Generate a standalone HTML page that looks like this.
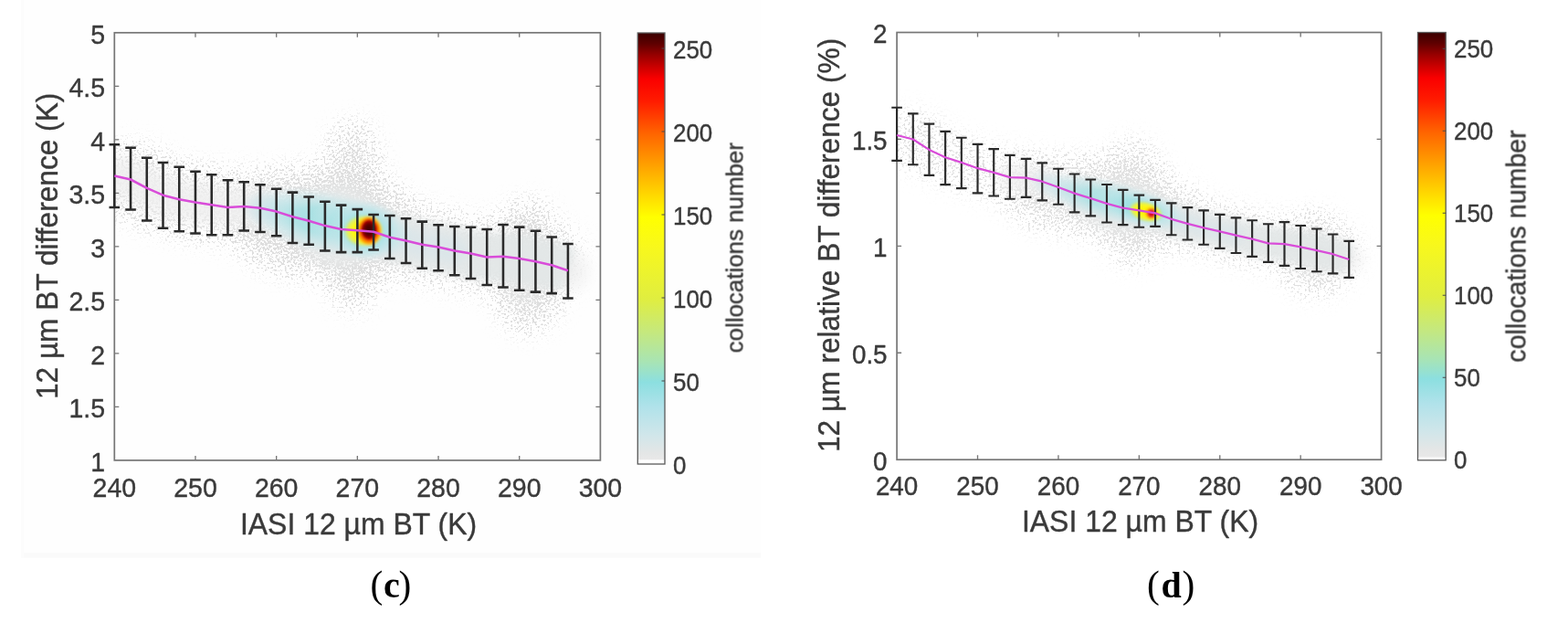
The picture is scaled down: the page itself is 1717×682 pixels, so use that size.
<!DOCTYPE html>
<html lang="en"><head><meta charset="utf-8">
<title>IASI 12 µm BT difference</title>
<style>
html,body{margin:0;padding:0;background:#fff;}
body{width:1717px;height:682px;overflow:hidden;}
svg{display:block;}
.soft{filter:blur(0.62px);}
.t{font-family:"Liberation Sans", sans-serif;fill:#3a3a3a;stroke:#3a3a3a;stroke-width:0.4px;stroke-linejoin:round;}
.cap{font-family:"Liberation Serif", serif;fill:#000;}
</style></head><body>
<svg width="1717" height="682" viewBox="0 0 1717 682">
<defs>
<linearGradient id="cbg" x1="0" y1="0" x2="0" y2="1">
<stop offset="0" stop-color="#3a0000"/>
<stop offset="0.025" stop-color="#5e0000"/>
<stop offset="0.051" stop-color="#960000"/>
<stop offset="0.08" stop-color="#cc0000"/>
<stop offset="0.107" stop-color="#fa0000"/>
<stop offset="0.159" stop-color="#ff1c00"/>
<stop offset="0.233" stop-color="#ff6400"/>
<stop offset="0.316" stop-color="#ffa800"/>
<stop offset="0.381" stop-color="#ffdc00"/>
<stop offset="0.428" stop-color="#ffff00"/>
<stop offset="0.496" stop-color="#f8f81c"/>
<stop offset="0.617" stop-color="#e0ee40"/>
<stop offset="0.697" stop-color="#c4e880"/>
<stop offset="0.763" stop-color="#a8e4b4"/>
<stop offset="0.81" stop-color="#8cdfe0"/>
<stop offset="0.867" stop-color="#b0e2ea"/>
<stop offset="0.932" stop-color="#d0e6ea"/>
<stop offset="0.975" stop-color="#e4e6e6"/>
<stop offset="0.9885" stop-color="#e8e8e8"/>
<stop offset="0.9915" stop-color="#ffffff"/>
<stop offset="1" stop-color="#ffffff"/>
</linearGradient>
<linearGradient id="cbgR" x1="0" y1="0" x2="0" y2="1">
<stop offset="0" stop-color="#3a0000"/>
<stop offset="0.025" stop-color="#5e0000"/>
<stop offset="0.051" stop-color="#960000"/>
<stop offset="0.08" stop-color="#cc0000"/>
<stop offset="0.107" stop-color="#fa0000"/>
<stop offset="0.159" stop-color="#ff1c00"/>
<stop offset="0.233" stop-color="#ff6400"/>
<stop offset="0.316" stop-color="#ffa800"/>
<stop offset="0.381" stop-color="#ffdc00"/>
<stop offset="0.428" stop-color="#ffff00"/>
<stop offset="0.496" stop-color="#f8f81c"/>
<stop offset="0.617" stop-color="#e0ee40"/>
<stop offset="0.697" stop-color="#c4e880"/>
<stop offset="0.763" stop-color="#a8e4b4"/>
<stop offset="0.81" stop-color="#8cdfe0"/>
<stop offset="0.867" stop-color="#b0e2ea"/>
<stop offset="0.932" stop-color="#d0e6ea"/>
<stop offset="0.975" stop-color="#e4e6e6"/>
<stop offset="0.9915" stop-color="#e8e8e8"/>
<stop offset="0.9945" stop-color="#ffffff"/>
<stop offset="1" stop-color="#ffffff"/>
</linearGradient>
<radialGradient id="gCore"><stop offset="0" stop-color="#380000"/><stop offset="0.5" stop-color="#600000"/><stop offset="0.78" stop-color="#b80400"/><stop offset="1" stop-color="#ff2800" stop-opacity="0"/></radialGradient>
<radialGradient id="gOr"><stop offset="0" stop-color="#ff2000"/><stop offset="0.5" stop-color="#ff4800"/><stop offset="0.78" stop-color="#ffa000"/><stop offset="1" stop-color="#ffe800" stop-opacity="0"/></radialGradient>
<radialGradient id="gYe"><stop offset="0" stop-color="#fff400"/><stop offset="0.55" stop-color="#fbf81c"/><stop offset="0.78" stop-color="#e6f050" stop-opacity="0.9"/><stop offset="1" stop-color="#b0e6b0" stop-opacity="0"/></radialGradient>
<radialGradient id="gCoreR"><stop offset="0" stop-color="#cc0428"/><stop offset="0.6" stop-color="#e4102c"/><stop offset="1" stop-color="#ff6000" stop-opacity="0"/></radialGradient>
<radialGradient id="gOrR"><stop offset="0" stop-color="#ff7000"/><stop offset="0.5" stop-color="#ffb000"/><stop offset="1" stop-color="#ffee00" stop-opacity="0"/></radialGradient>
<radialGradient id="gCy"><stop offset="0" stop-color="#90dfe0" stop-opacity="1"/><stop offset="0.4" stop-color="#a2e1e4" stop-opacity="0.95"/><stop offset="0.72" stop-color="#c2e6ea" stop-opacity="0.6"/><stop offset="1" stop-color="#dde8ea" stop-opacity="0"/></radialGradient>
<filter id="b1" x="-30%" y="-30%" width="160%" height="160%"><feGaussianBlur stdDeviation="1"/></filter>
<filter id="b4" x="-30%" y="-30%" width="160%" height="160%"><feGaussianBlur stdDeviation="4.5"/></filter>
<filter id="b8" x="-30%" y="-30%" width="160%" height="160%"><feGaussianBlur stdDeviation="8"/></filter>
<filter id="spk" x="0" y="0" width="100%" height="100%" filterUnits="objectBoundingBox" color-interpolation-filters="sRGB"><feGaussianBlur in="SourceGraphic" stdDeviation="14" result="d"/><feTurbulence type="fractalNoise" baseFrequency="0.42" numOctaves="2" seed="11" result="n"/><feColorMatrix in="n" type="matrix" values="0 0 0 0 0.86  0 0 0 0 0.86  0 0 0 0 0.86  3.2 0 0 0 -1.1" result="na"/><feComposite in="d" in2="na" operator="arithmetic" k1="0" k2="1" k3="-1" k4="0" result="s"/><feColorMatrix in="s" type="matrix" values="0 0 0 0 0.872  0 0 0 0 0.872  0 0 0 0 0.872  0 0 0 6 0" result="t"/><feGaussianBlur in="t" stdDeviation="0.35"/></filter>
<clipPath id="clipL"><rect x="126" y="36.5" width="531" height="467"/></clipPath>
<clipPath id="clipR"><rect x="983" y="36.2" width="529" height="466.6"/></clipPath>
</defs>
<rect width="1717" height="682" fill="#ffffff"/>
<rect x="23" y="0" width="810" height="610.5" fill="#fefefe"/>
<rect x="23" y="605" width="810" height="5.5" fill="#fafafa"/>
<rect x="23" y="0" width="3" height="610.5" fill="#fcfcfc"/>
<defs><clipPath id="clipLx"><rect x="119" y="30" width="545" height="480"/></clipPath><clipPath id="clipRx"><rect x="976" y="30" width="543" height="480"/></clipPath></defs>
<g id="plotL" class="soft">
<g clip-path="url(#clipL)">
<g filter="url(#spk)">
<rect x="125.3" y="35.8" width="532.1" height="468.1" fill="#000" fill-opacity="0"/>
<ellipse cx="340" cy="243" rx="85" ry="55" fill="#000" fill-opacity="0.6"/>
<ellipse cx="386" cy="236" rx="30" ry="100" fill="#000" fill-opacity="0.65"/>
<ellipse cx="400" cy="252" rx="60" ry="52" fill="#000" fill-opacity="0.45"/>
<ellipse cx="578" cy="292" rx="34" ry="68" fill="#000" fill-opacity="0.7"/>
<ellipse cx="140" cy="194" rx="30" ry="30" fill="#000" fill-opacity="0.25"/>
<path d="M125.3 192.6 L143.04 196.5 L160.77 205.8 L178.51 213.7 L196.25 218.2 L213.98 221.6 L231.72 224.2 L249.46 226.9 L267.19 226.1 L284.93 227.7 L302.67 231.6 L320.4 237.2 L338.14 241.8 L355.88 247.1 L373.61 251 L391.35 252.3 L409.09 253.7 L426.82 259.7 L444.56 263.4 L462.3 267.7 L480.03 270.6 L497.77 274.6 L515.51 277.6 L533.24 281.6 L550.98 280.8 L568.72 282.9 L586.45 286.3 L604.19 290.3 L621.93 296.3" fill="none" stroke="#000" stroke-opacity="0.5" stroke-width="70" stroke-linecap="butt" stroke-linejoin="round"/>
<path d="M249.46 226.9 L267.19 226.1 L284.93 227.7 L302.67 231.6 L320.4 237.2 L338.14 241.8 L355.88 247.1 L373.61 251 L391.35 252.3 L409.09 253.7 L426.82 259.7 L444.56 263.4 L462.3 267.7 L480.03 270.6 L497.77 274.6 L515.51 277.6 L533.24 281.6 L550.98 280.8 L568.72 282.9 L586.45 286.3 L604.19 290.3 L621.93 296.3" fill="none" stroke="#000" stroke-opacity="0" stroke-width="70" stroke-linecap="butt" stroke-linejoin="round"/>
</g>
<g filter="url(#b8)">
<path d="M125.3 192.6 L143.04 196.5 L160.77 205.8 L178.51 213.7 L196.25 218.2 L213.98 221.6 L231.72 224.2 L249.46 226.9 L267.19 226.1 L284.93 227.7 L302.67 231.6 L320.4 237.2 L338.14 241.8 L355.88 247.1 L373.61 251 L391.35 252.3 L409.09 253.7 L426.82 259.7 L444.56 263.4 L462.3 267.7 L480.03 270.6 L497.77 274.6 L515.51 277.6 L533.24 281.6 L550.98 280.8 L568.72 282.9 L586.45 286.3 L604.19 290.3 L621.93 296.3" fill="none" stroke="#f0f0f0" stroke-opacity="0.9" stroke-width="42" stroke-linecap="round" stroke-linejoin="round"/>
<ellipse cx="372" cy="248" rx="44" ry="44" fill="#e8eaea" fill-opacity="0.9"/>
<ellipse cx="574" cy="292" rx="26" ry="36" fill="#e8eaea" fill-opacity="0.7"/>
</g>
<g filter="url(#b4)">
<path d="M320.4 237.2 L338.14 241.8 L355.88 247.1 L373.61 251 L391.35 252.3 L409.09 253.7 L426.82 259.7 L444.56 263.4 L462.3 267.7 L480.03 270.6 L497.77 274.6 L515.51 277.6 L533.24 281.6 L550.98 280.8 L568.72 282.9 L586.45 286.3 L604.19 290.3 L621.93 296.3" fill="none" stroke="#e2e6e6" stroke-opacity="0.85" stroke-width="52" stroke-linecap="butt" stroke-linejoin="round"/>
<path d="M284.93 227.7 L302.67 231.6 L320.4 237.2 L338.14 241.8 L355.88 247.1 L373.61 251 L391.35 252.3 L409.09 253.7 L426.82 259.7 L444.56 263.4 L462.3 267.7 L480.03 270.6 L497.77 274.6" fill="none" stroke="#dbe7ea" stroke-opacity="0.9" stroke-width="28" stroke-linecap="round" stroke-linejoin="round"/>
</g>
<ellipse cx="358.2" cy="252.3" rx="100" ry="36" fill="url(#gCy)" fill-opacity="0.8" transform="rotate(11.47 404.2 252.3)"/>
<ellipse cx="395.2" cy="252.3" rx="58" ry="33" fill="url(#gCy)" fill-opacity="0.85" transform="rotate(11.47 404.2 252.3)"/>
<g filter="url(#b1)">
<ellipse cx="400.2" cy="252.8" rx="40" ry="35" fill="url(#gCy)" fill-opacity="0.9"/>
<ellipse cx="398.2" cy="252.8" rx="23" ry="18.5" fill="url(#gYe)"/>
<ellipse cx="404.2" cy="252.6" rx="15" ry="17.5" fill="url(#gOr)"/>
<ellipse cx="404.2" cy="251.5" rx="10.5" ry="13" fill="url(#gCore)"/>
</g>
</g>
<rect x="125.3" y="35.8" width="532.1" height="468.1" fill="none" stroke="#767676" stroke-width="1.7"/>
<path d="M213.98 503.9v-5M213.98 35.8v5M302.67 503.9v-5M302.67 35.8v5M391.35 503.9v-5M391.35 35.8v5M480.03 503.9v-5M480.03 35.8v5M568.72 503.9v-5M568.72 35.8v5M125.3 445.39h5M657.4 445.39h-5M125.3 386.88h5M657.4 386.88h-5M125.3 328.36h5M657.4 328.36h-5M125.3 269.85h5M657.4 269.85h-5M125.3 211.34h5M657.4 211.34h-5M125.3 152.82h5M657.4 152.82h-5M125.3 94.31h5M657.4 94.31h-5" fill="none" stroke="#767676" stroke-width="1.35"/>
<g clip-path="url(#clipLx)">
<path d="M125.3 158.3V226.9M119.5 158.3H131.1M119.5 226.9H131.1M143.04 161.7V229.5M137.24 161.7H148.84M137.24 229.5H148.84M160.77 172.8V241.4M154.97 172.8H166.57M154.97 241.4H166.57M178.51 178V249.8M172.71 178H184.31M172.71 249.8H184.31M196.25 182.8V253.2M190.45 182.8H202.05M190.45 253.2H202.05M213.98 187.8V255.4M208.18 187.8H219.78M208.18 255.4H219.78M231.72 191.2V257.2M225.92 191.2H237.52M225.92 257.2H237.52M249.46 197.3V257.2M243.66 197.3H255.26M243.66 257.2H255.26M267.19 199.2V252.5M261.39 199.2H272.99M261.39 252.5H272.99M284.93 202.3V254M279.13 202.3H290.73M279.13 254H290.73M302.67 206.8V258.2M296.87 206.8H308.47M296.87 258.2H308.47M320.4 210.6V266M314.6 210.6H326.2M314.6 266H326.2M338.14 215.4V267.7M332.34 215.4H343.94M332.34 267.7H343.94M355.88 220.7V274.5M350.08 220.7H361.68M350.08 274.5H361.68M373.61 224.6V276.1M367.81 224.6H379.41M367.81 276.1H379.41M391.35 229.1V276.1M385.55 229.1H397.15M385.55 276.1H397.15M409.09 234.9V273.5M403.29 234.9H414.89M403.29 273.5H414.89M426.82 236V283M421.02 236H432.62M421.02 283H432.62M444.56 239.2V288M438.76 239.2H450.36M438.76 288H450.36M462.3 242.6V293.8M456.5 242.6H468.1M456.5 293.8H468.1M480.03 246.2V296.3M474.23 246.2H485.83M474.23 296.3H485.83M497.77 247.9V301.3M491.97 247.9H503.57M491.97 301.3H503.57M515.51 248.8V305M509.71 248.8H521.31M509.71 305H521.31M533.24 251V311.9M527.44 251H539.04M527.44 311.9H539.04M550.98 245.9V314.5M545.18 245.9H556.78M545.18 314.5H556.78M568.72 248.6V317.7M562.92 248.6H574.52M562.92 317.7H574.52M586.45 252.8V319.6M580.65 252.8H592.25M580.65 319.6H592.25M604.19 259.4V321.1M598.39 259.4H609.99M598.39 321.1H609.99M621.93 267V326.4M616.13 267H627.73M616.13 326.4H627.73" fill="none" stroke="#2a2a2a" stroke-width="2.55"/>
</g>
<polyline points="125.3,192.6 143.04,196.5 160.77,205.8 178.51,213.7 196.25,218.2 213.98,221.6 231.72,224.2 249.46,226.9 267.19,226.1 284.93,227.7 302.67,231.6 320.4,237.2 338.14,241.8 355.88,247.1 373.61,251 391.35,252.3 409.09,253.7 426.82,259.7 444.56,263.4 462.3,267.7 480.03,270.6 497.77,274.6 515.51,277.6 533.24,281.6 550.98,280.8 568.72,282.9 586.45,286.3 604.19,290.3 621.93,296.3" fill="none" stroke="#d94cd9" stroke-width="2.55" stroke-linejoin="round"/>
<text class="t" font-size="30.3" text-anchor="middle" transform="translate(125.3 544.3) scale(0.94 1)">240</text>
<text class="t" font-size="30.3" text-anchor="middle" transform="translate(213.98 544.3) scale(0.94 1)">250</text>
<text class="t" font-size="30.3" text-anchor="middle" transform="translate(302.67 544.3) scale(0.94 1)">260</text>
<text class="t" font-size="30.3" text-anchor="middle" transform="translate(391.35 544.3) scale(0.94 1)">270</text>
<text class="t" font-size="30.3" text-anchor="middle" transform="translate(480.03 544.3) scale(0.94 1)">280</text>
<text class="t" font-size="30.3" text-anchor="middle" transform="translate(568.72 544.3) scale(0.94 1)">290</text>
<text class="t" font-size="30.3" text-anchor="middle" transform="translate(657.4 544.3) scale(0.94 1)">300</text>
<text class="t" font-size="30.3" text-anchor="end" transform="translate(115 515.9) scale(0.94 1)">1</text>
<text class="t" font-size="30.3" text-anchor="end" transform="translate(115 457.39) scale(0.94 1)">1.5</text>
<text class="t" font-size="30.3" text-anchor="end" transform="translate(115 398.88) scale(0.94 1)">2</text>
<text class="t" font-size="30.3" text-anchor="end" transform="translate(115 340.36) scale(0.94 1)">2.5</text>
<text class="t" font-size="30.3" text-anchor="end" transform="translate(115 281.85) scale(0.94 1)">3</text>
<text class="t" font-size="30.3" text-anchor="end" transform="translate(115 223.34) scale(0.94 1)">3.5</text>
<text class="t" font-size="30.3" text-anchor="end" transform="translate(115 164.82) scale(0.94 1)">4</text>
<text class="t" font-size="30.3" text-anchor="end" transform="translate(115 106.31) scale(0.94 1)">4.5</text>
<text class="t" font-size="30.3" text-anchor="end" transform="translate(115 47.8) scale(0.94 1)">5</text>
<text class="t" font-size="33" text-anchor="middle" transform="translate(392.5 584.7) scale(0.968 1)">IASI 12 µm BT (K)</text>
<text class="t" font-size="33" text-anchor="middle" transform="translate(62.6 269.4) rotate(-90) scale(0.959 1)">12 µm BT difference (K)</text>
<rect x="698.3" y="36" width="29.7" height="472" fill="url(#cbg)" stroke="#5a5a5a" stroke-width="1.3"/>
<path d="M728 417h-3.5M728 326h-3.5M728 235h-3.5M728 144h-3.5M728 53h-3.5" fill="none" stroke="#4a4a4a" stroke-width="1.1"/>
<text class="t" font-size="28.2" text-anchor="start" transform="translate(737 519.1) scale(0.92 1)">0</text>
<text class="t" font-size="28.2" text-anchor="start" transform="translate(737 428.1) scale(0.92 1)">50</text>
<text class="t" font-size="28.2" text-anchor="start" transform="translate(737 337.1) scale(0.92 1)">100</text>
<text class="t" font-size="28.2" text-anchor="start" transform="translate(737 246.1) scale(0.92 1)">150</text>
<text class="t" font-size="28.2" text-anchor="start" transform="translate(737 155.1) scale(0.92 1)">200</text>
<text class="t" font-size="28.2" text-anchor="start" transform="translate(737 64.1) scale(0.92 1)">250</text>
<text class="t" font-size="26.3" text-anchor="middle" transform="translate(813.5 271.2) rotate(-90) scale(0.985 1)">collocations number</text>
</g>
<g id="plotR" class="soft">
<g clip-path="url(#clipR)">
<g filter="url(#spk)" opacity="0.92">
<rect x="982.1" y="35.5" width="530.5" height="467.7" fill="#000" fill-opacity="0"/>
<ellipse cx="1185" cy="214" rx="80" ry="36" fill="#000" fill-opacity="0.6"/>
<ellipse cx="1240" cy="222" rx="32" ry="64" fill="#000" fill-opacity="0.62"/>
<ellipse cx="1255" cy="232" rx="60" ry="36" fill="#000" fill-opacity="0.45"/>
<ellipse cx="1440" cy="278" rx="32" ry="40" fill="#000" fill-opacity="0.68"/>
<ellipse cx="1000" cy="150" rx="24" ry="22" fill="#000" fill-opacity="0.25"/>
<path d="M982.1 148 L999.78 152.5 L1017.47 163.9 L1035.15 172.3 L1052.83 177.9 L1070.52 184.2 L1088.2 188.9 L1105.88 194.2 L1123.57 194.7 L1141.25 198.7 L1158.93 205 L1176.62 211.6 L1194.3 217.1 L1211.98 222.9 L1229.67 227.6 L1247.35 230.3 L1265.03 233.4 L1282.72 239.8 L1300.4 244.8 L1318.08 249.3 L1335.77 253.3 L1353.45 257.6 L1371.13 261.6 L1388.82 266.3 L1406.5 267.1 L1424.18 270.3 L1441.87 274.2 L1459.55 278.2 L1477.23 284" fill="none" stroke="#000" stroke-opacity="0.34" stroke-width="46" stroke-linecap="butt" stroke-linejoin="round"/>
<path d="M1105.88 194.2 L1123.57 194.7 L1141.25 198.7 L1158.93 205 L1176.62 211.6 L1194.3 217.1 L1211.98 222.9 L1229.67 227.6 L1247.35 230.3 L1265.03 233.4 L1282.72 239.8 L1300.4 244.8 L1318.08 249.3 L1335.77 253.3 L1353.45 257.6 L1371.13 261.6 L1388.82 266.3 L1406.5 267.1 L1424.18 270.3 L1441.87 274.2 L1459.55 278.2 L1477.23 284" fill="none" stroke="#000" stroke-opacity="0.16" stroke-width="46" stroke-linecap="butt" stroke-linejoin="round"/>
</g>
<g filter="url(#b8)">
<path d="M1105.88 194.2 L1123.57 194.7 L1141.25 198.7 L1158.93 205 L1176.62 211.6 L1194.3 217.1 L1211.98 222.9 L1229.67 227.6 L1247.35 230.3 L1265.03 233.4 L1282.72 239.8 L1300.4 244.8 L1318.08 249.3 L1335.77 253.3 L1353.45 257.6 L1371.13 261.6 L1388.82 266.3 L1406.5 267.1 L1424.18 270.3 L1441.87 274.2 L1459.55 278.2 L1477.23 284" fill="none" stroke="#f0f0f0" stroke-opacity="0.9" stroke-width="28" stroke-linecap="round" stroke-linejoin="round"/>
<ellipse cx="1228" cy="226" rx="44" ry="26" fill="#e8eaea" fill-opacity="0.9"/>
<ellipse cx="1436" cy="277" rx="24" ry="22" fill="#e8eaea" fill-opacity="0.7"/>
</g>
<g filter="url(#b4)">
<path d="M1176.62 211.6 L1194.3 217.1 L1211.98 222.9 L1229.67 227.6 L1247.35 230.3 L1265.03 233.4 L1282.72 239.8 L1300.4 244.8 L1318.08 249.3 L1335.77 253.3 L1353.45 257.6 L1371.13 261.6 L1388.82 266.3 L1406.5 267.1 L1424.18 270.3 L1441.87 274.2 L1459.55 278.2 L1477.23 284" fill="none" stroke="#e2e6e6" stroke-opacity="0.85" stroke-width="35" stroke-linecap="butt" stroke-linejoin="round"/>
<path d="M1141.25 198.7 L1158.93 205 L1176.62 211.6 L1194.3 217.1 L1211.98 222.9 L1229.67 227.6 L1247.35 230.3 L1265.03 233.4 L1282.72 239.8 L1300.4 244.8 L1318.08 249.3 L1335.77 253.3 L1353.45 257.6" fill="none" stroke="#dbe7ea" stroke-opacity="0.9" stroke-width="18" stroke-linecap="round" stroke-linejoin="round"/>
</g>
<ellipse cx="1218.8" cy="231.4" rx="96" ry="24" fill="url(#gCy)" fill-opacity="0.7" transform="rotate(14.63 1260.8 232.4)"/>
<ellipse cx="1247.8" cy="231.4" rx="52" ry="20" fill="url(#gCy)" fill-opacity="0.7" transform="rotate(14.63 1260.8 232.4)"/>
<g filter="url(#b1)">
<ellipse cx="1254.8" cy="233.2" rx="20" ry="11.5" fill="url(#gYe)" transform="rotate(14.63 1260.8 232.4)"/>
<ellipse cx="1260.3" cy="233.4" rx="8.5" ry="8.5" fill="url(#gOrR)"/>
<ellipse cx="1260.8" cy="233.6" rx="5.8" ry="6.2" fill="url(#gCoreR)"/>
</g>
</g>
<rect x="982.1" y="35.5" width="530.5" height="467.7" fill="none" stroke="#767676" stroke-width="1.7"/>
<path d="M1070.52 503.2v-5M1070.52 35.5v5M1158.93 503.2v-5M1158.93 35.5v5M1247.35 503.2v-5M1247.35 35.5v5M1335.77 503.2v-5M1335.77 35.5v5M1424.18 503.2v-5M1424.18 35.5v5M982.1 386.27h5M1512.6 386.27h-5M982.1 269.35h5M1512.6 269.35h-5M982.1 152.43h5M1512.6 152.43h-5" fill="none" stroke="#767676" stroke-width="1.35"/>
<g clip-path="url(#clipRx)">
<path d="M982.1 117.7V175.8M976.3 117.7H987.9M976.3 175.8H987.9M999.78 124.3V180.2M993.98 124.3H1005.58M993.98 180.2H1005.58M1017.47 135.6V191.8M1011.67 135.6H1023.27M1011.67 191.8H1023.27M1035.15 143.8V202.1M1029.35 143.8H1040.95M1029.35 202.1H1040.95M1052.83 150.7V206.1M1047.03 150.7H1058.63M1047.03 206.1H1058.63M1070.52 157.8V211.4M1064.72 157.8H1076.32M1064.72 211.4H1076.32M1088.2 163.1V214.5M1082.4 163.1H1094M1082.4 214.5H1094M1105.88 169.9V217.7M1100.08 169.9H1111.68M1100.08 217.7H1111.68M1123.57 173.9V215.9M1117.77 173.9H1129.37M1117.77 215.9H1129.37M1141.25 178.4V219.3M1135.45 178.4H1147.05M1135.45 219.3H1147.05M1158.93 184.7V223.7M1153.13 184.7H1164.73M1153.13 223.7H1164.73M1176.62 190.5V232.3M1170.82 190.5H1182.42M1170.82 232.3H1182.42M1194.3 196.5V236.3M1188.5 196.5H1200.1M1188.5 236.3H1200.1M1211.98 202V243.5M1206.18 202H1217.78M1206.18 243.5H1217.78M1229.67 207.8V246.1M1223.87 207.8H1235.47M1223.87 246.1H1235.47M1247.35 213.6V248.7M1241.55 213.6H1253.15M1241.55 248.7H1253.15M1265.03 218.9V247.9M1259.23 218.9H1270.83M1259.23 247.9H1270.83M1282.72 222.3V257.2M1276.92 222.3H1288.52M1276.92 257.2H1288.52M1300.4 227.1V262.5M1294.6 227.1H1306.2M1294.6 262.5H1306.2M1318.08 230.3V267.7M1312.28 230.3H1323.88M1312.28 267.7H1323.88M1335.77 234.8V271.8M1329.97 234.8H1341.57M1329.97 271.8H1341.57M1353.45 238.4V277M1347.65 238.4H1359.25M1347.65 277H1359.25M1371.13 241.2V280.8M1365.33 241.2H1376.93M1365.33 280.8H1376.93M1388.82 245.2V286.9M1383.02 245.2H1394.62M1383.02 286.9H1394.62M1406.5 243.1V290.8M1400.7 243.1H1412.3M1400.7 290.8H1412.3M1424.18 247V294M1418.38 247H1429.98M1418.38 294H1429.98M1441.87 250.5V297.2M1436.07 250.5H1447.67M1436.07 297.2H1447.67M1459.55 256.5V299.3M1453.75 256.5H1465.35M1453.75 299.3H1465.35M1477.23 263.9V303.8M1471.43 263.9H1483.03M1471.43 303.8H1483.03" fill="none" stroke="#2a2a2a" stroke-width="2.15"/>
</g>
<polyline points="982.1,148 999.78,152.5 1017.47,163.9 1035.15,172.3 1052.83,177.9 1070.52,184.2 1088.2,188.9 1105.88,194.2 1123.57,194.7 1141.25,198.7 1158.93,205 1176.62,211.6 1194.3,217.1 1211.98,222.9 1229.67,227.6 1247.35,230.3 1265.03,233.4 1282.72,239.8 1300.4,244.8 1318.08,249.3 1335.77,253.3 1353.45,257.6 1371.13,261.6 1388.82,266.3 1406.5,267.1 1424.18,270.3 1441.87,274.2 1459.55,278.2 1477.23,284" fill="none" stroke="#d94cd9" stroke-width="2.25" stroke-linejoin="round"/>
<text class="t" font-size="29.3" text-anchor="middle" transform="translate(982.1 542) scale(0.95 1)">240</text>
<text class="t" font-size="29.3" text-anchor="middle" transform="translate(1070.52 542) scale(0.95 1)">250</text>
<text class="t" font-size="29.3" text-anchor="middle" transform="translate(1158.93 542) scale(0.95 1)">260</text>
<text class="t" font-size="29.3" text-anchor="middle" transform="translate(1247.35 542) scale(0.95 1)">270</text>
<text class="t" font-size="29.3" text-anchor="middle" transform="translate(1335.77 542) scale(0.95 1)">280</text>
<text class="t" font-size="29.3" text-anchor="middle" transform="translate(1424.18 542) scale(0.95 1)">290</text>
<text class="t" font-size="29.3" text-anchor="middle" transform="translate(1512.6 542) scale(0.95 1)">300</text>
<text class="t" font-size="29.3" text-anchor="end" transform="translate(971.6 514.9) scale(0.95 1)">0</text>
<text class="t" font-size="29.3" text-anchor="end" transform="translate(971.6 397.97) scale(0.95 1)">0.5</text>
<text class="t" font-size="29.3" text-anchor="end" transform="translate(971.6 281.05) scale(0.95 1)">1</text>
<text class="t" font-size="29.3" text-anchor="end" transform="translate(971.6 164.12) scale(0.95 1)">1.5</text>
<text class="t" font-size="29.3" text-anchor="end" transform="translate(971.6 47.2) scale(0.95 1)">2</text>
<text class="t" font-size="33" text-anchor="middle" transform="translate(1248.5 582.3) scale(0.968 1)">IASI 12 µm BT (K)</text>
<text class="t" font-size="33" text-anchor="middle" transform="translate(919.3 268.4) rotate(-90) scale(0.959 1)">12 µm relative BT difference (%)</text>
<rect x="1552.5" y="35.5" width="30.7" height="468.3" fill="url(#cbgR)" stroke="#5a5a5a" stroke-width="1.3"/>
<path d="M1583.2 413.2h-3.5M1583.2 323.2h-3.5M1583.2 233.2h-3.5M1583.2 143.2h-3.5M1583.2 53.2h-3.5" fill="none" stroke="#4a4a4a" stroke-width="1.1"/>
<text class="t" font-size="28.2" text-anchor="start" transform="translate(1592 512.6) scale(0.92 1)">0</text>
<text class="t" font-size="28.2" text-anchor="start" transform="translate(1592 422.6) scale(0.92 1)">50</text>
<text class="t" font-size="28.2" text-anchor="start" transform="translate(1592 332.6) scale(0.92 1)">100</text>
<text class="t" font-size="28.2" text-anchor="start" transform="translate(1592 242.6) scale(0.92 1)">150</text>
<text class="t" font-size="28.2" text-anchor="start" transform="translate(1592 152.6) scale(0.92 1)">200</text>
<text class="t" font-size="28.2" text-anchor="start" transform="translate(1592 62.6) scale(0.92 1)">250</text>
<text class="t" font-size="29.05" text-anchor="middle" transform="translate(1670.5 269.5) rotate(-90) scale(0.985 1)">collocations number</text>
</g>
<text class="cap" font-size="40" y="653.8"><tspan x="405.6" font-size="41.4">(</tspan><tspan x="420" font-weight="bold">c</tspan><tspan x="436.4" font-size="41.4">)</tspan></text>
<text class="cap" font-size="40" y="653.8"><tspan x="1255.9" font-size="41.4">(</tspan><tspan x="1271.4" font-weight="bold">d</tspan><tspan x="1294.4" font-size="41.4">)</tspan></text>
</svg>
</body></html>
